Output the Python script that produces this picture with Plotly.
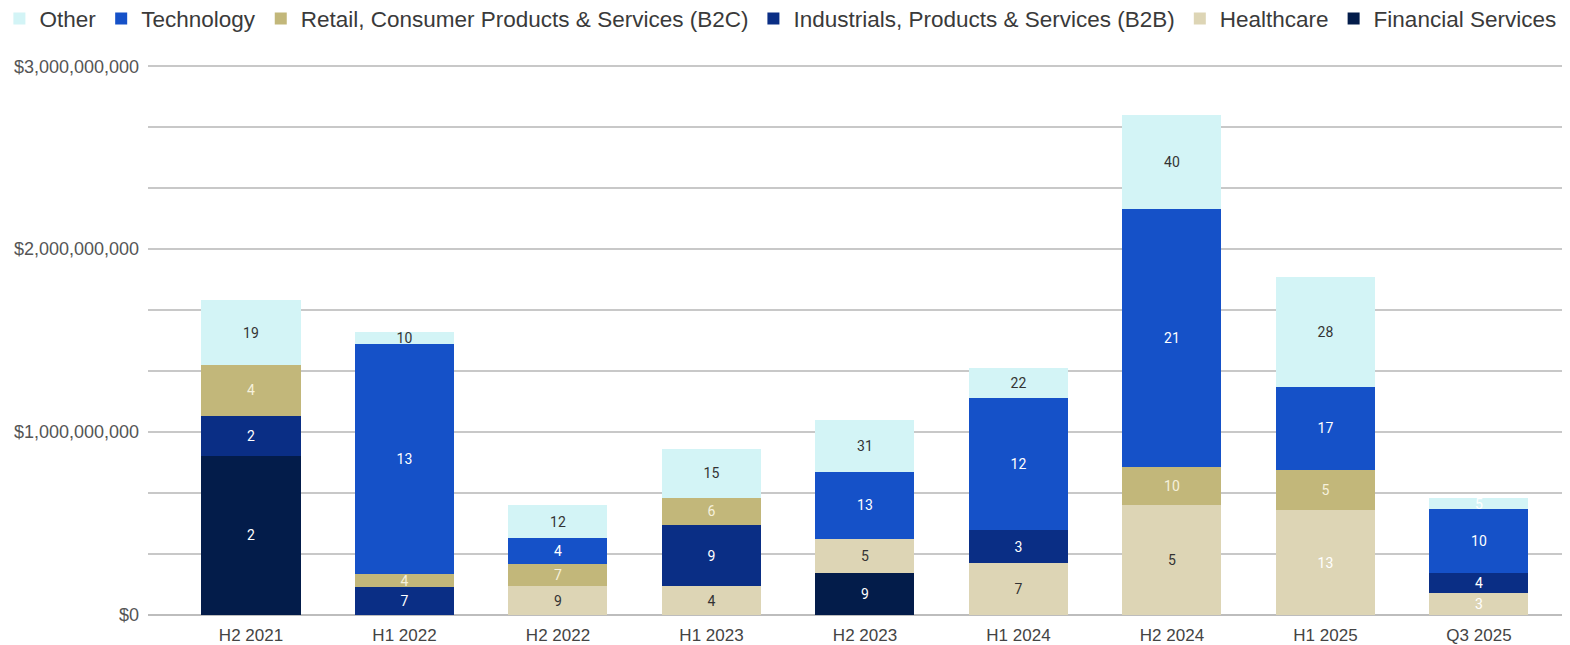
import plotly.graph_objects as go

# Periods and sector totals (US$ millions), stacked bottom -> top
periods = ["H2 2021", "H1 2022", "H2 2022", "H1 2023", "H2 2023",
           "H1 2024", "H2 2024", "H1 2025", "Q3 2025"]

financial = [871, None, None, None, 229, None, None, None, None]
healthcare = [None, None, 158, 158, 185, 283, 599, 572, 120]
industrials = [218, 152, None, 332, None, 180, None, None, 109]
retail = [278, 71, 120, 152, None, None, 212, 223, None]
technology = [None, 1258, 141, None, 370, 724, 1410, 452, 348]
other = [354, 65, 180, 267, 283, 163, 512, 599, 65]

# Deal counts shown inside each segment
financial_n = [2, None, None, None, 9, None, None, None, None]
healthcare_n = [None, None, 9, 4, 5, 7, 5, 13, 3]
industrials_n = [2, 7, None, 9, None, 3, None, None, 4]
retail_n = [4, 4, 7, 6, None, None, 10, 5, None]
technology_n = [None, 13, 4, None, 13, 12, 21, 17, 10]
other_n = [19, 10, 12, 15, 31, 22, 40, 28, 5]

# y axis labels
y_ticks = [0, 1e9, 2e9, 3e9]
y_labels = ["$0", "$1,000,000,000", "$2,000,000,000", "$3,000,000,000"]

series = [
    ("Financial Services", financial, financial_n, "#031c4a", "#ffffff"),
    ("Healthcare", healthcare, healthcare_n, "#ddd5b5",
     ["#333333"] * 7 + ["#ffffff", "#ffffff"]),
    ("Industrials, Products & Services (B2B)", industrials, industrials_n, "#0a2e85", "#ffffff"),
    ("Retail, Consumer Products & Services (B2C)", retail, retail_n, "#c2b77a", "#f6f1dc"),
    ("Technology", technology, technology_n, "#1551c8", "#ffffff"),
    ("Other", other, other_n, "#d3f4f6", ["#333333"] * 8 + ["#ffffff"]),
]

fig = go.Figure()
for name, vals, counts, color, tcolor in series:
    fig.add_trace(go.Bar(
        name=name,
        x=list(range(len(periods))),
        y=[v * 1e6 if v is not None else None for v in vals],
        text=[str(c) if c is not None else "" for c in counts],
        textposition="inside",
        insidetextanchor="middle",
        textangle=0,
        textfont=dict(size=14, color=tcolor, family="Roboto, Arial, sans-serif"),
        marker=dict(color=color, line=dict(width=0)),
        width=0.645,
    ))

# the page body adds an 8px margin, so the figure is 8px smaller each way
grid = "#c8c8c8"
fig.update_layout(
    barmode="stack",
    width=1562,
    height=637,
    margin=dict(l=140, r=0, t=56, b=30, autoexpand=False),
    plot_bgcolor="white",
    paper_bgcolor="white",
    font=dict(family="Liberation Sans, Arial, sans-serif", color="#444444"),
    uniformtext=dict(minsize=14, mode="show"),
    legend=dict(
        orientation="h",
        traceorder="reversed",
        x=-0.1045,
        xanchor="left",
        y=1.0817,
        yanchor="middle",
        font=dict(size=22.5, color="#3a3a3a"),
        itemwidth=30,
        tracegroupgap=0,
    ),
    showlegend=True,
)

fig.update_xaxes(
    tickvals=list(range(len(periods))),
    ticktext=periods,
    range=[-0.671, 8.593],
    showgrid=False,
    zeroline=False,
    tickfont=dict(size=17, color="#444444"),
    ticks="",
    ticklabelstandoff=8,
)

fig.update_yaxes(
    range=[0, 3.012e9],
    tickvals=y_ticks,
    ticktext=y_labels,
    showgrid=True,
    gridcolor=grid,
    gridwidth=1.5,
    minor=dict(dtick=1e9 / 3, showgrid=True, gridcolor=grid, gridwidth=1.5),
    zeroline=True,
    zerolinecolor="#bdbdbd",
    zerolinewidth=2,
    tickfont=dict(size=18, color="#555555"),
    ticklabelstandoff=8,
)

fig.write_html("out.html")
